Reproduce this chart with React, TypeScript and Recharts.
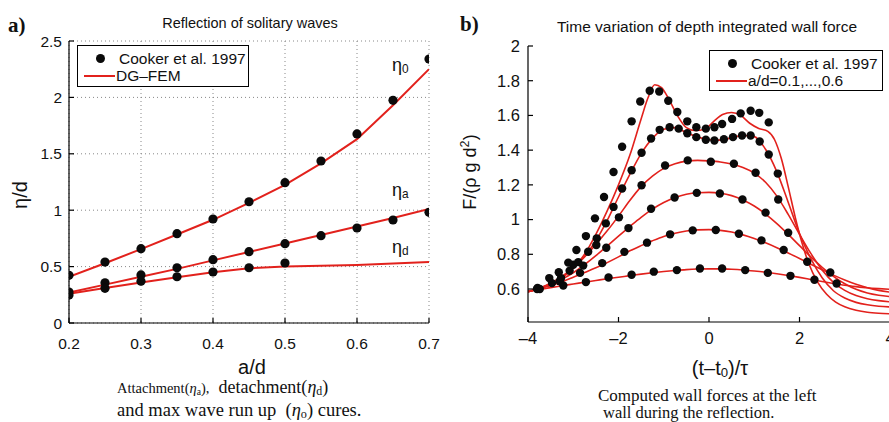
import React from "react";
import { CartesianGrid, ComposedChart, Line, Scatter, XAxis, YAxis } from "recharts";

const RED = "#e2211c";
const SANS = '"Liberation Sans", Arial, Helvetica, sans-serif';
const SERIF = '"Liberation Serif", "Times New Roman", serif';

// ---- panel a: reflection of solitary waves ----
const adTicks = [0.2, 0.3, 0.4, 0.5, 0.6, 0.7];
const etaTicks = [0, 0.5, 1, 1.5, 2, 2.5];
const adX = [0.2, 0.25, 0.3, 0.35, 0.4, 0.45, 0.5, 0.55, 0.6, 0.65, 0.7];
const eta0Cooker = [0.423, 0.54, 0.659, 0.792, 0.922, 1.075, 1.244, 1.436, 1.676, 1.974, 2.34];
const etaACooker = [0.275, 0.357, 0.426, 0.49, 0.561, 0.632, 0.703, 0.774, 0.842, 0.913, 0.981];
const etaDX = [0.2, 0.25, 0.3, 0.35, 0.4, 0.45, 0.5];
const etaDCooker = [0.248, 0.307, 0.37, 0.41, 0.452, 0.49, 0.532];
const eta0Fem = [0.41, 0.53, 0.655, 0.785, 0.915, 1.065, 1.225, 1.415, 1.63, 1.93, 2.25];
const etaAFem = [0.27, 0.34, 0.41, 0.48, 0.555, 0.63, 0.705, 0.78, 0.855, 0.93, 1.01];
const etaDFemX = [0.2, 0.25, 0.3, 0.35, 0.4, 0.45, 0.5, 0.6, 0.7];
const etaDFem = [0.26, 0.31, 0.36, 0.405, 0.45, 0.485, 0.5, 0.515, 0.54];

// ---- panel b: wall force vs time ----
const tTicks = [-4, -2, 0, 2, 4];
const fTicks = [0.6, 0.8, 1, 1.2, 1.4, 1.6, 1.8, 2];
const T = [-4, -3.75, -3.5, -3.25, -3, -2.75, -2.5, -2.25, -2, -1.75, -1.5, -1.25, -1, -0.75, -0.5, -0.25, 0,
  0.25, 0.5, 0.75, 1, 1.25, 1.5, 1.75, 2, 2.25, 2.5, 2.75, 3, 3.25, 3.5, 3.75, 4];
const c1Line = [0.588, 0.598, 0.608, 0.619, 0.629, 0.639, 0.649, 0.659, 0.668, 0.677, 0.686, 0.694, 0.701, 0.707, 0.712, 0.715, 0.716,
  0.716, 0.714, 0.71, 0.704, 0.697, 0.688, 0.678, 0.667, 0.655, 0.643, 0.632, 0.622, 0.614, 0.607, 0.602, 0.598];
const c2Line = [0.586, 0.602, 0.62, 0.642, 0.668, 0.695, 0.722, 0.752, 0.785, 0.82, 0.85, 0.878, 0.903, 0.921, 0.934, 0.941, 0.942,
  0.938, 0.928, 0.912, 0.891, 0.866, 0.838, 0.808, 0.776, 0.743, 0.711, 0.68, 0.652, 0.627, 0.607, 0.592, 0.582];
const c3Line = [0.585, 0.603, 0.627, 0.657, 0.694, 0.74, 0.792, 0.848, 0.905, 0.96, 1.013, 1.06, 1.098, 1.127, 1.146, 1.155, 1.157,
  1.152, 1.138, 1.113, 1.078, 1.032, 0.977, 0.915, 0.85, 0.785, 0.725, 0.673, 0.63, 0.598, 0.577, 0.564, 0.556];
const c4Line = [0.585, 0.605, 0.633, 0.672, 0.723, 0.785, 0.857, 0.935, 1.02, 1.11, 1.19, 1.25, 1.295, 1.322, 1.337, 1.341, 1.338,
  1.332, 1.32, 1.3, 1.268, 1.215, 1.135, 1.03, 0.915, 0.805, 0.71, 0.638, 0.592, 0.562, 0.544, 0.533, 0.526];
const c5Line = [0.585, 0.603, 0.63, 0.668, 0.72, 0.788, 0.878, 0.995, 1.13, 1.26, 1.38, 1.468, 1.52, 1.53, 1.5, 1.476, 1.46,
  1.458, 1.472, 1.484, 1.478, 1.405, 1.275, 1.1, 0.92, 0.775, 0.665, 0.59, 0.548, 0.523, 0.509, 0.501, 0.497];
const c6LineT = [-4, -3.75, -3.5, -3.25, -3, -2.75, -2.5, -2.25, -2, -1.75, -1.5, -1.35, -1.2, -1.05, -0.9, -0.7, -0.5, -0.3, -0.1, 0.1,
  0.3, 0.5, 0.7, 0.9, 1.1, 1.3, 1.45, 1.6, 1.75, 1.9, 2.05, 2.2, 2.4, 2.6, 2.8, 3, 3.25, 3.5, 3.75, 4];
const c6Line = [0.585, 0.602, 0.628, 0.665, 0.72, 0.8, 0.915, 1.05, 1.2, 1.37, 1.58, 1.7, 1.777, 1.76, 1.7, 1.6, 1.53, 1.513, 1.52, 1.565,
  1.605, 1.617, 1.6, 1.555, 1.525, 1.508, 1.46, 1.35, 1.19, 1.02, 0.87, 0.75, 0.64, 0.57, 0.525, 0.498, 0.478, 0.466, 0.46, 0.457];

const c1DotT = [-3.79, -3.22, -2.72, -2.22, -1.71, -1.22, -0.71, -0.2, 0.29, 0.8, 1.3, 1.8, 2.33, 2.82];
const c1DotF = [0.606, 0.62, 0.64, 0.666, 0.682, 0.7, 0.709, 0.718, 0.718, 0.709, 0.693, 0.676, 0.653, 0.632];
const c2DotT = [-3.8, -3.3, -2.85, -2.36, -1.87, -1.37, -0.86, -0.36, 0.15, 0.66, 1.16, 1.65, 2.17, 2.68];
const c2DotF = [0.6, 0.645, 0.693, 0.749, 0.814, 0.867, 0.915, 0.938, 0.94, 0.918, 0.88, 0.825, 0.757, 0.695];
const c3DotT = [-2.78, -2.27, -1.78, -1.28, -0.76, -0.27, 0.24, 0.74, 1.25, 1.75];
const c3DotF = [0.735, 0.838, 0.951, 1.062, 1.127, 1.154, 1.15, 1.116, 1.04, 0.924];
const c4DotT = [-3.0, -2.49, -1.99, -1.49, -0.97, -0.47, 0.04, 0.55, 1.03, 1.53];
const c4DotF = [0.74, 0.854, 1.013, 1.198, 1.312, 1.341, 1.333, 1.322, 1.27, 1.116];
const c5DotT = [-3.47, -3.27, -3.08, -2.89, -2.67, -2.48, -2.28, -2.11, -1.92, -1.71, -1.49, -1.28, -1.09, -0.87, -0.67, -0.48,
  -0.28, -0.07, 0.12, 0.33, 0.53, 0.73, 0.92, 1.12, 1.32, 1.52];
const c5DotF = [0.634, 0.663, 0.705, 0.755, 0.815, 0.892, 0.978, 1.073, 1.179, 1.284, 1.385, 1.467, 1.517, 1.532, 1.524, 1.497,
  1.475, 1.46, 1.456, 1.463, 1.475, 1.484, 1.484, 1.45, 1.375, 1.265];
const c6DotT = [-3.74, -3.53, -3.32, -3.11, -2.93, -2.72, -2.52, -2.32, -2.11, -1.92, -1.71, -1.52, -1.31, -1.1, -0.9, -0.7, -0.48,
  -0.28, -0.07, 0.12, 0.29, 0.51, 0.7, 0.92, 1.11, 1.32];
const c6DotF = [0.6, 0.663, 0.697, 0.752, 0.825, 0.905, 1.007, 1.13, 1.274, 1.42, 1.566, 1.68, 1.742, 1.738, 1.685, 1.62, 1.566,
  1.532, 1.524, 1.532, 1.551, 1.58, 1.612, 1.627, 1.615, 1.56];

const pts = (xs: number[], ys: number[]) => xs.map((x, i) => ({ x, y: ys[i] }));

const dot = (r: number) => (p: any) => <circle cx={p.cx} cy={p.cy} r={r} fill="#0a0a0a" />;
const blank = () => "";
const tFmt = (v: number) => (v < 0 ? `\u2013${Math.abs(v)}` : `${v}`);

function Txt(props: { x: number; y: number; size: number; font?: string; anchor?: "start" | "middle"; rotate?: boolean; bold?: boolean; children: React.ReactNode }) {
  const { x, y, size, font = SANS, anchor = "middle", rotate, bold, children } = props;
  const tx = anchor === "middle" ? "-50%" : "0";
  return (
    <div
      style={{
        position: "absolute", left: x, top: y, fontFamily: font, fontSize: size, lineHeight: 1, whiteSpace: "nowrap",
        fontWeight: bold ? 700 : 400, color: "#111",
        transform: rotate ? "translate(-50%,-50%) rotate(-90deg)" : `translate(${tx},-50%)`,
      }}
    >
      {children}
    </div>
  );
}

function LegendBox({ x, y, w, h, label }: { x: number; y: number; w: number; h: number; label: string }) {
  return (
    <div style={{ position: "absolute", left: x, top: y, width: w, height: h, border: "1.3px solid #000", background: "#fff", boxSizing: "border-box" }}>
      <div style={{ position: "absolute", left: 18, top: 8, width: 9, height: 9, borderRadius: "50%", background: "#0a0a0a" }} />
      <Txt x={41} y={13} size={15.5} anchor="start">Cooker et al. 1997</Txt>
      <div style={{ position: "absolute", left: 6, top: 29, width: 31, height: 2, background: RED }} />
      <Txt x={38} y={30} size={15.5} anchor="start">{label}</Txt>
    </div>
  );
}

const axisStroke = { stroke: "#000", strokeWidth: 1.2 };

function PanelA() {
  return (
    <ComposedChart width={445} height={360} margin={{ top: 41, right: 16, bottom: 15, left: 0 }}>
      <CartesianGrid xAxisId="b" yAxisId="l" stroke="#888" strokeDasharray="1 3" />
      <XAxis xAxisId="b" type="number" dataKey="x" domain={[0.2, 0.7]} ticks={adTicks} allowDataOverflow
        height={22} tickSize={-5} tickMargin={19.5} axisLine={axisStroke} tickLine={axisStroke}
        tick={{ fill: "#111", fontSize: 15.5, fontFamily: SANS }} />
      <XAxis xAxisId="t" orientation="top" type="number" dataKey="x" domain={[0.2, 0.7]} ticks={adTicks} allowDataOverflow
        height={0} tickSize={-5} tickFormatter={blank} axisLine={axisStroke} tickLine={axisStroke} />
      <YAxis yAxisId="l" type="number" dataKey="y" domain={[0, 2.5]} ticks={etaTicks} allowDataOverflow
        width={69} tickSize={-5} tickMargin={12} axisLine={axisStroke} tickLine={axisStroke}
        tick={{ fill: "#111", fontSize: 15.5, fontFamily: SANS }} />
      <YAxis yAxisId="r" orientation="right" type="number" dataKey="y" domain={[0, 2.5]} ticks={etaTicks} allowDataOverflow
        width={0} tickSize={-5} tickFormatter={blank} axisLine={axisStroke} tickLine={axisStroke} />
      <Line xAxisId="b" yAxisId="l" data={pts(adX, eta0Fem)} dataKey="y" type="linear" stroke={RED} strokeWidth={2} dot={false} isAnimationActive={false} />
      <Line xAxisId="b" yAxisId="l" data={pts(adX, etaAFem)} dataKey="y" type="linear" stroke={RED} strokeWidth={2} dot={false} isAnimationActive={false} />
      <Line xAxisId="b" yAxisId="l" data={pts(etaDFemX, etaDFem)} dataKey="y" type="linear" stroke={RED} strokeWidth={2} dot={false} isAnimationActive={false} />
      <Scatter xAxisId="b" yAxisId="l" data={pts(adX, eta0Cooker)} shape={dot(4.6)} isAnimationActive={false} />
      <Scatter xAxisId="b" yAxisId="l" data={pts(adX, etaACooker)} shape={dot(4.6)} isAnimationActive={false} />
      <Scatter xAxisId="b" yAxisId="l" data={pts(etaDX, etaDCooker)} shape={dot(4.6)} isAnimationActive={false} />
    </ComposedChart>
  );
}

const femCurves = [pts(T, c1Line), pts(T, c2Line), pts(T, c3Line), pts(T, c4Line), pts(T, c5Line), pts(c6LineT, c6Line)];
const cookerCurves = [pts(c1DotT, c1DotF), pts(c2DotT, c2DotF), pts(c3DotT, c3DotF), pts(c4DotT, c4DotF), pts(c5DotT, c5DotF), pts(c6DotT, c6DotF)];

function PanelB() {
  return (
    <ComposedChart width={470} height={359} margin={{ top: 46, right: 20, bottom: 15, left: 0 }}>
      <XAxis xAxisId="b" type="number" dataKey="x" domain={[-4, 4]} ticks={tTicks} allowDataOverflow
        height={22} tickSize={-5} tickMargin={15} tickFormatter={tFmt} axisLine={axisStroke} tickLine={axisStroke}
        tick={{ fill: "#111", fontSize: 16.5, fontFamily: SANS }} />
      <XAxis xAxisId="t" orientation="top" type="number" dataKey="x" domain={[-4, 4]} ticks={tTicks} allowDataOverflow
        height={0} tickSize={-5} tickFormatter={blank} axisLine={axisStroke} tickLine={axisStroke} />
      <YAxis yAxisId="l" type="number" dataKey="y" domain={[0.41, 2]} ticks={fTicks} allowDataOverflow
        width={88} tickSize={-5} tickMargin={13} axisLine={axisStroke} tickLine={axisStroke}
        tick={{ fill: "#111", fontSize: 16.5, fontFamily: SANS }} />
      <YAxis yAxisId="r" orientation="right" type="number" dataKey="y" domain={[0.41, 2]} ticks={fTicks} allowDataOverflow
        width={0} tickSize={-5} tickFormatter={blank} axisLine={axisStroke} tickLine={axisStroke} />
      {femCurves.map((d, i) => (
        <Line key={`l${i}`} xAxisId="b" yAxisId="l" data={d} dataKey="y" type="monotone" stroke={RED} strokeWidth={1.6} dot={false} isAnimationActive={false} />
      ))}
      {cookerCurves.map((d, i) => (
        <Scatter key={`s${i}`} xAxisId="b" yAxisId="l" data={d} shape={dot(4.2)} isAnimationActive={false} />
      ))}
    </ComposedChart>
  );
}

const sub = (s: string) => <span style={{ fontSize: "0.66em", position: "relative", top: "0.18em", lineHeight: 0 }}>{s}</span>;

export default function App() {
  return (
    <div style={{ position: "absolute", left: 0, top: 0, width: 889, height: 422, overflow: "hidden", background: "#fff" }}>
      <div style={{ position: "absolute", left: 0, top: 0 }}>
        <PanelA />
      </div>
      <div style={{ position: "absolute", left: 440, top: 0 }}>
        <PanelB />
      </div>

      <Txt x={8} y={25} size={21} font={SERIF} anchor="start" bold>a)</Txt>
      <Txt x={250} y={23} size={14.5}>Reflection of solitary waves</Txt>
      <Txt x={20} y={195} size={20} rotate>η/d</Txt>
      <Txt x={252} y={367} size={20}>a/d</Txt>
      <Txt x={392} y={65} size={18} anchor="start">η{sub("0")}</Txt>
      <Txt x={392} y={190} size={18} anchor="start">η{sub("a")}</Txt>
      <Txt x={392} y={247} size={18} anchor="start">η{sub("d")}</Txt>
      <LegendBox x={77} y={45} w={172} h={42} label="DG–FEM" />
      <Txt x={117} y={387} size={18} font={SERIF} anchor="start">
        <span style={{ fontSize: 14.5 }}>Attachment(<i>η</i>{sub("a")}),</span>&nbsp;&nbsp;detachment(<i>η</i>{sub("d")})
      </Txt>
      <Txt x={117} y={410} size={18.5} font={SERIF} anchor="start">
        and max wave run up&nbsp;&nbsp;(<i>η</i>{sub("o")}) cures.
      </Txt>

      <Txt x={460} y={24} size={21} font={SERIF} anchor="start" bold>b)</Txt>
      <Txt x={707} y={27} size={15.5}>Time variation of depth integrated wall force</Txt>
      <Txt x={470} y={172} size={18} rotate>F/(ρ g d<sup style={{ fontSize: "0.7em", lineHeight: 0 }}>2</sup>)</Txt>
      <Txt x={720} y={368} size={20}>(t–t{sub("0")})/τ</Txt>
      <LegendBox x={709} y={50} w={174} h={41} label="a/d=0.1,...,0.6" />
      <Txt x={598} y={395} size={17} font={SERIF} anchor="start">Computed wall forces at the left</Txt>
      <Txt x={603} y={413} size={16.5} font={SERIF} anchor="start">wall during the reflection.</Txt>
    </div>
  );
}
